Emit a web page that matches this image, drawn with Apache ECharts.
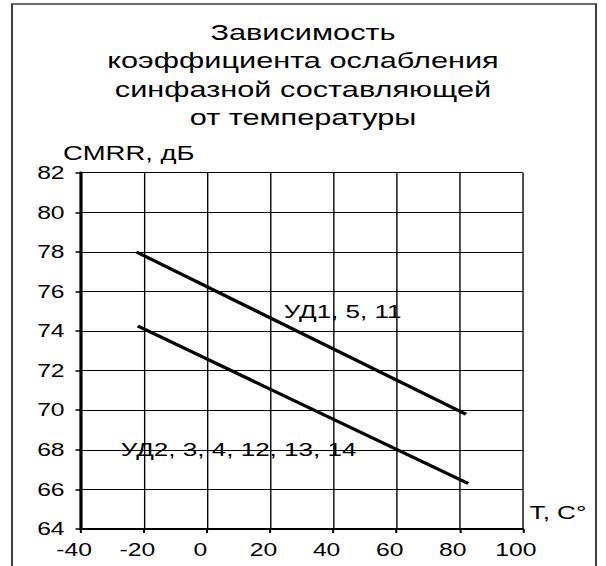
<!DOCTYPE html>
<html>
<head>
<meta charset="utf-8">
<script src="https://cdn.jsdelivr.net/npm/echarts@6/dist/echarts.min.js"></script>
<style>
  html, body { margin: 0; padding: 0; background: #fff; overflow: hidden; }
  /* The chart is laid out in a narrow box and widened horizontally,
     which gives the lettering its broad, stretched proportions. */
  #chart { width: 442px; height: 566px; transform: scaleX(1.371); transform-origin: 0 0; }
</style>
</head>
<body>
<div id="chart"></div>
<script>
// Temperature (°C) and CMRR (dB) end points of each straight-line dependence
const tempsUD1 = [-22.5, 82.0];
const cmrrUD1  = [78.0, 69.8];
const tempsUD2 = [-22.0, 82.7];
const cmrrUD2  = [74.25, 66.3];

const seriesNames = ['УД1, 5, 11', 'УД2, 3, 4, 12, 13, 14'];
// Where each series caption starts, in data units [T, CMRR]
const captionAnchors = [[24, 75], [-27.6, 68]];

// Axis ranges
const xRange = { min: -40, max: 100, step: 20 };
const yRange = { min: 64, max: 82, step: 2 };

const titleLines = ['Зависимость', 'коэффициента ослабления', 'синфазной составляющей', 'от температуры'];
const xName = 'T, C°';
const yName = 'CMRR, дБ';

const FONT = '"Liberation Sans", Arial, sans-serif';
const STRETCH = 1.371;

function pairs(xs, ys) { return xs.map((x, i) => [x, ys[i]]); }

function lineSeries(name, data, anchor) {
  return {
    name: name,
    type: 'line',
    data: data,
    symbol: 'none',
    lineStyle: { color: '#000', width: 3 },
    z: 5,
    markPoint: {
      symbol: 'circle',
      symbolSize: 1,
      itemStyle: { color: 'rgba(0,0,0,0)' },
      label: {
        show: true,
        position: 'right',
        distance: 0,
        formatter: name,
        color: '#000',
        fontSize: 19,
        fontFamily: FONT
      },
      data: [{ coord: anchor }]
    }
  };
}

const chart = echarts.init(document.getElementById('chart'), null, { renderer: 'svg' });

chart.setOption({
  animation: false,
  backgroundColor: '#fff',
  title: {
    text: titleLines.join('\n'),
    left: 'center',
    top: 13,
    padding: [5, 10, 5, 5],
    textStyle: { color: '#000', fontSize: 22.4, fontWeight: 'normal', lineHeight: 28.5, fontFamily: FONT }
  },
  grid: { left: 59.1, right: 60.7, top: 172.7, bottom: 37, containLabel: false },
  xAxis: {
    type: 'value',
    min: xRange.min, max: xRange.max, interval: xRange.step,
    axisLine: { show: true, onZero: false, lineStyle: { color: '#000', width: 2.2 } },
    axisTick: { show: true, length: 4, lineStyle: { color: '#000', width: 1.5 } },
    axisLabel: { color: '#000', fontSize: 18, fontFamily: FONT, margin: 12, padding: [0, 10, 0, 0] },
    splitLine: { show: true, lineStyle: { color: '#000', width: 1 } },
    name: xName,
    nameLocation: 'end',
    nameGap: 5,
    nameTextStyle: { color: '#000', fontSize: 19, fontFamily: FONT, align: 'left', verticalAlign: 'bottom', padding: [0, 0, 7, 0] }
  },
  yAxis: {
    type: 'value',
    min: yRange.min, max: yRange.max, interval: yRange.step,
    axisLine: { show: true, onZero: false, lineStyle: { color: '#000', width: 2.2 } },
    axisTick: { show: true, length: 4, lineStyle: { color: '#000', width: 1.5 } },
    axisLabel: { color: '#000', fontSize: 18, fontFamily: FONT, margin: 12 },
    splitLine: { show: true, lineStyle: { color: '#000', width: 1 } }
  },
  graphic: [
    {
      type: 'rect',
      shape: { x: 12 / STRETCH, y: 4, width: 584 / STRETCH, height: 700 },
      style: { fill: 'none', stroke: '#3a3a3a', lineWidth: 1.4 },
      silent: true,
      z: 0
    },
    {
      type: 'text',
      left: 63 / STRETCH,
      top: 143,
      style: { text: yName, fill: '#000', fontSize: 20, fontFamily: FONT },
      silent: true
    }
  ],
  series: [
    lineSeries(seriesNames[0], pairs(tempsUD1, cmrrUD1), captionAnchors[0]),
    lineSeries(seriesNames[1], pairs(tempsUD2, cmrrUD2), captionAnchors[1])
  ]
});
</script>
</body>
</html>
